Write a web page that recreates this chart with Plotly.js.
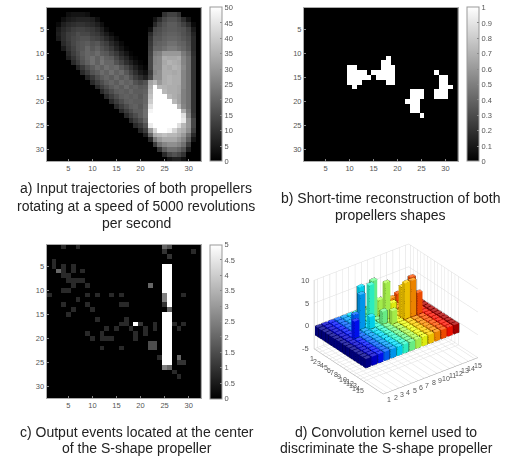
<!DOCTYPE html>
<html><head><meta charset="utf-8">
<script src="https://cdn.plot.ly/plotly-3.0.1.min.js"></script>
<style>html,body{margin:0;padding:0;background:#fff}#chart{width:507px;height:458px;filter:blur(0.45px)}</style>
</head><body><div id="chart"></div>
<script>
const W=507,H=458;
const TEXT='#555';
const gridSize=32;
const tickVals=[5,10,15,20,25,30];

// Panel a: intensity per row, as [firstColumn, values...] runs
const trajectoryRows=[
 [],
 [[5,3,4,4,4,3],[25,10,13,13,10]],
 [[4,3,5,6,7,7,7,6,3],[23,4,9,14,16,16,14,9,4]],
 [[3,2,6,8,9,10,10,9,8,6,3],[23,8,13,16,18,18,16,13,9,2]],
 [[3,5,8,10,12,13,13,12,11,9,6,2],[22,3,14,15,17,18,18,17,16,13,5]],
 [[3,6,9,12,13,15,14,14,12,11,8,5,2],[22,8,15,16,18,19,19,18,16,14,7]],
 [[3,5,9,12,14,15,16,16,14,13,11,8,5,2],[22,10,17,17,19,20,20,19,17,15,8]],
 [[4,8,11,14,16,17,18,16,17,14,12,8,5,2],[22,11,18,19,20,22,22,20,19,16,8]],
 [[4,5,10,13,16,17,20,17,19,16,14,11,7,4,1],[22,12,20,20,22,24,24,22,20,17,8]],
 [[5,8,12,15,18,20,19,21,18,17,14,11,7,4,1],[22,13,24,25,30,30,30,30,24,20,9]],
 [[5,6,10,14,17,20,22,19,22,19,18,14,10,7,3,1],[22,14,26,27,34,33,33,34,26,22,10]],
 [[6,8,12,16,19,22,19,23,20,20,16,13,9,6,3,1],[22,14,26,27,33,35,34,33,26,22,10]],
 [[7,7,11,15,18,21,19,22,20,21,17,14,10,6,3,1],[22,14,27,27,34,33,35,34,27,22,10]],
 [[8,8,12,16,18,21,19,22,19,21,17,13,9,5,3],[22,12,26,28,34,34,33,34,26,22,10]],
 [[9,7,11,15,18,20,18,21,18,20,16,12,9,6],[22,14,28,28,34,35,34,34,26,22,10]],
 [[10,8,12,15,18,20,18,21,19,20,16,14,16],[22,32,36,30,34,35,34,34,26,22,10]],
 [[11,8,12,15,18,20,18,21,18,19,17,18],[22,34,50,36,35,34,34,33,26,22,10]],
 [[12,8,12,15,18,19,18,20,18,18,19],[22,36,50,50,36,34,34,33,25,22,10]],
 [[13,8,12,15,18,19,18,19,17,20],[22,38,50,50,50,36,34,32,25,22,10]],
 [[14,8,12,15,18,19,18,18,20],[22,40,50,50,50,50,36,32,25,22,10]],
 [[15,8,12,15,18,19,17,21],[22,44,50,50,50,50,50,36,26,22,10]],
 [[16,8,12,15,18,18,22],[22,48,50,50,50,50,50,50,34,24,10]],
 [[17,8,12,15,18,22],[22,50,50,50,50,50,50,50,44,26,11]],
 [[18,8,12,15,20],[22,50,50,50,50,50,50,50,46,30,14]],
 [[19,8,11,16],[22,46,50,50,50,50,50,44,36,30,14]],
 [[20,7,12],[22,30,42,50,50,48,42,36,34,28,12]],
 [[21,6],[22,20,34,36,38,36,36,34,30,22,8]],
 [[22,8,24,30,33,33,33,30,26,18,4]],
 [[23,12,22,26,28,28,26,22,12]],
 [[24,10,18,22,22,20,16,6]],
 [[25,8,14,16,14,10]],
 [[26,4,6,6,3]]
];

// Panel b: white runs as [row, firstColumn, lastColumn]
const reconstructionRuns=[
 [11,18,18],[12,17,18],[13,10,11],[13,17,19],[14,10,13],[14,15,19],[15,10,14],[15,16,19],
 [16,10,12],[16,18,19],[17,11,11],
 [18,23,25],[19,23,25],[20,22,24],[21,23,24],[22,23,24],[23,25,25],
 [14,28,28],[15,29,30],[16,29,30],[17,29,31],[18,28,30],[19,28,30]
];

// Panel c: events as [column, row, count]
const outputEvents=[
 [4,1,.8],[7,1,.8],[25,1,2],[26,1,1.5],[25,2,1],[31,2,.8],[26,3,1],[2,4,.8],[2,5,.8],[3,6,2],[4,5,.8],[4,6,.8],[4,7,.8],[5,7,.8],[5,8,.8],
 [6,5,.8],[6,6,.8],[8,6,.8],[6,8,.8],[7,8,.8],[8,8,.8],[6,9,.8],[9,9,.8],[4,10,.8],[5,10,.8],[1,11,.8],[9,11,.8],[11,11,.8],[14,11,.8],[16,11,.8],
 [22,9,2],[29,11,.8],[7,12,.8],[4,13,.8],[9,13,.8],[16,13,.8],[17,13,.8],[6,14,.8],[10,14,.8],[5,15,.8],[11,16,.8],[17,16,.8],[16,17,.8],[17,17,.8],
 [19,17,5],[20,17,1],[23,17,.8],[27,17,.8],[29,17,.8],[13,18,.8],[15,18,.8],[18,18,.8],[21,18,.8],[23,18,.8],[28,18,.8],[9,19,.8],[12,19,.8],
 [19,19,.8],[21,19,.8],[10,20,.8],[12,20,.8],[13,20,.8],[14,20,.8],[19,20,.8],[22,21,1.5],[23,21,1.5],[22,22,1.5],[23,22,1.5],[12,22,.8],[16,22,.8],
 [24,24,.8],[28,24,2],[28,25,1],[29,25,1],[25,26,2.5],[26,26,2],[27,27,.8],[28,28,.8],
 [25,11,2.5],[25,12,2.5],[25,13,1],[26,14,2]
];
// Saturated columns: [column, firstRow, lastRow]
const saturatedRuns=[[25,5,10],[26,5,13],[25,15,25],[26,15,25]];

// Panel d: kernel; every cell is -2 except these [column, row, value]
const kernelBase=-2;
const kernelPeaks=[
 [3,8,3.7],[4,6,3.6],[5,6,7.5],[6,4,7.6],[7,5,8],[8,4,7.9],[6,7,2.6],[8,7,2.7],[9,6,7.9],[9,8,2.8],[9,4,3.2],[10,6,3],
 [11,7,6.5],[11,8,7.8],[12,8,7.8],[13,6,7],[13,8,4.6],[13,2,1.5],[14,2,1.5],[12,2,1]
];
const kernelColors=['#00008F','#0000D0','#0010FF','#0060FF','#00A0FF','#00E0FF','#30FFD0','#70FF90','#B0FF50','#F0FF10','#FFD000','#FF9000','#FF5000','#FF1000','#AF0000'];
const kernelTicks=[1,2,3,4,5,6,7,8,9,10,11,12,13,14,15];
const kernelZTicks=[-5,0,5,10];

const caps=[
 {lines:['a) Input trajectories of both propellers','rotating at a speed of 5000 revolutions','per second'],cx:136,ys:[188,205.5,222.5]},
 {lines:['b) Short-time reconstruction of both','propellers shapes'],cx:390,ys:[198,215]},
 {lines:['c) Output events located at the center','of the S-shape propeller'],cx:136.5,ys:[431.5,448]},
 {lines:['d) Convolution kernel used to','discriminate the S-shape propeller'],cx:386,ys:[431.5,448]}
];

function blank(){return Array.from({length:gridSize},()=>Array(gridSize).fill(0));}
const zA=blank();
trajectoryRows.forEach((segs,r)=>segs.forEach(s=>s.slice(1).forEach((v,i)=>{zA[r][s[0]-1+i]=v;})));
const zB=blank();
reconstructionRuns.forEach(([r,a,b])=>{for(let c=a;c<=b;c++)zB[r-1][c-1]=1;});
const zC=blank();
outputEvents.forEach(([c,r,v])=>{zC[r-1][c-1]=v;});
saturatedRuns.forEach(([c,a,b])=>{for(let r=a;r<=b;r++)zC[r-1][c-1]=5;});

const gray=[[0,'#000'],[1,'#fff']];
const cells=Array.from({length:gridSize},(_,i)=>i+1);
const font7={family:'Liberation Sans, Arial, sans-serif',size:7.5,color:TEXT};

function px2x(a,b){return [a/W,b/W];}
function px2y(t,b){return [1-b/H,1-t/H];}
function heat(z,zmax,dtick,ax,barX,top){
 return {type:'heatmap',x:cells,y:cells,z,zmin:0,zmax,colorscale:gray,xaxis:'x'+ax,yaxis:'y'+ax,hoverinfo:'skip',
  colorbar:{thickness:12,thicknessmode:'pixels',len:153.5,lenmode:'pixels',x:barX/W,xanchor:'left',xpad:0,y:1-top/H,yanchor:'top',ypad:0,
   outlinecolor:'#999',outlinewidth:1,ticks:'inside',ticklen:2,tickcolor:'#888',tick0:0,dtick,tickfont:font7}};
}
function axisX(dom,anchor){return {domain:dom,range:[0.5,32.5],tickvals:tickVals,ticks:'inside',ticklen:2,tickcolor:'#888',showgrid:false,zeroline:false,showline:true,mirror:true,linecolor:'#aaa',linewidth:1,tickfont:font7,anchor};}
function axisY(dom,anchor){return {domain:dom,range:[32.5,0.5],tickvals:tickVals,ticks:'inside',ticklen:2,tickcolor:'#888',showgrid:false,zeroline:false,showline:true,mirror:true,linecolor:'#aaa',linewidth:1,tickfont:font7,anchor};}

// kernel boxes built from the values above
const kz=kernelTicks.map(()=>kernelTicks.map(()=>kernelBase));
kernelPeaks.forEach(([c,r,v])=>{kz[r-1][c-1]=v;});
const mx=[],my=[],mz=[],mi=[],mj=[],mk=[],mc=[],ex=[],ey=[],ez=[];
function shade(hex,f){
 const n=parseInt(hex.slice(1),16);let ch=[n>>16,(n>>8)&255,n&255];
 ch=ch.map(v=>f>=1?Math.round(v+(255-v)*(f-1)):Math.round(v*f));
 return 'rgb('+ch.join(',')+')';
}
const hw=0.4;
kz.forEach((row,r)=>row.forEach((v,c)=>{
 const x0=c+1-hw,x1=c+1+hw,y0=r+1-hw,y1=r+1+hw,z0=Math.min(0,v),z1=Math.max(0,v);
 const b=mx.length;
 [[x0,y0,z0],[x1,y0,z0],[x1,y1,z0],[x0,y1,z0],[x0,y0,z1],[x1,y0,z1],[x1,y1,z1],[x0,y1,z1]].forEach(p=>{mx.push(p[0]);my.push(p[1]);mz.push(p[2]);});
 const col=kernelColors[c];
 [[[4,5,6],[4,6,7],1.22],[[0,1,2],[0,2,3],0.6],[[3,2,6],[3,6,7],0.92],[[0,1,5],[0,5,4],0.8],[[0,3,7],[0,7,4],0.8],[[1,2,6],[1,6,5],1.0]].forEach(f=>{
  [f[0],f[1]].forEach(t=>{mi.push(b+t[0]);mj.push(b+t[1]);mk.push(b+t[2]);mc.push(shade(col,f[2]));});
 });
 [[0,1],[1,2],[2,3],[3,0],[4,5],[5,6],[6,7],[7,4],[0,4],[1,5],[2,6],[3,7]].forEach(e=>{
  ex.push(mx[b+e[0]],mx[b+e[1]],null);ey.push(my[b+e[0]],my[b+e[1]],null);ez.push(mz[b+e[0]],mz[b+e[1]],null);
 });
}));
const yEnd=20.7;
const sceneNotes=[];
const tickFont={family:'Liberation Sans, Arial, sans-serif',size:7,color:TEXT};
kernelTicks.forEach(t=>{
 sceneNotes.push({x:t,y:yEnd,z:-5,text:String(t),showarrow:false,xshift:3,yshift:-7,font:tickFont});
 sceneNotes.push({x:0.5,y:t,z:-5,text:String(t),showarrow:false,xshift:-4,yshift:-9,font:tickFont});
});
kernelZTicks.forEach(t=>sceneNotes.push({x:0.5,y:0.5,z:t,text:String(t),showarrow:false,xanchor:'right',xshift:-3,font:font7}));

const sceneAxis=(range,tickvals)=>({range,tickvals,showticklabels:false,ticks:'',showgrid:true,gridcolor:'#dcdcdc',gridwidth:1,zeroline:false,showline:true,linecolor:'#999',linewidth:1,showbackground:false,showspikes:false,title:{text:''}});

const traces=[
 heat(zA,50,5,'',210,7.5),
 heat(zB,1,0.1,'2',467.3,7.5),
 heat(zC,5,0.5,'3',210,244.5),
 {type:'mesh3d',x:mx,y:my,z:mz,i:mi,j:mj,k:mk,facecolor:mc,flatshading:true,lighting:{ambient:1,diffuse:0,specular:0,roughness:1,fresnel:0},hoverinfo:'skip',showscale:false,scene:'scene'},
 {type:'scatter3d',mode:'lines',x:ex,y:ey,z:ez,line:{color:'rgba(0,0,0,0.55)',width:1},hoverinfo:'skip',showlegend:false,scene:'scene'}
];

const annotations=[];
caps.forEach(c=>c.lines.forEach((t,i)=>annotations.push({xref:'paper',yref:'paper',x:c.cx/W,y:1-c.ys[i]/H,xanchor:'center',yanchor:'middle',showarrow:false,text:t,font:{family:'Liberation Sans, Arial, sans-serif',size:14,color:'#222'}})));

const layout={width:W,height:H,autosize:false,margin:{l:0,r:0,t:0,b:0},paper_bgcolor:'#fff',plot_bgcolor:'#000',showlegend:false,annotations,
 xaxis:axisX(px2x(46.7,200.7),'y'),yaxis:axisY(px2y(7.5,161),'x'),
 xaxis2:axisX(px2x(304,457.5),'y2'),yaxis2:axisY(px2y(7.5,161),'x2'),
 xaxis3:axisX(px2x(46.7,200.7),'y3'),yaxis3:axisY(px2y(244.5,398),'x3'),
 scene:{domain:{x:px2x(285,507),y:px2y(228,410)},
  xaxis:sceneAxis([0.5,15.5],kernelTicks),yaxis:sceneAxis([yEnd,0.5],kernelTicks),zaxis:sceneAxis([-5,10],kernelZTicks),
  aspectmode:'manual',aspectratio:{x:1.31,y:1.25,z:0.87},
  camera:{projection:{type:'orthographic'},eye:{x:-0.955,y:-1.245,z:0.909},center:{x:0,y:0,z:0},up:{x:0,y:0,z:1}},
  annotations:sceneNotes}
};
Plotly.newPlot('chart',traces,layout,{displayModeBar:false});
</script></body></html>
